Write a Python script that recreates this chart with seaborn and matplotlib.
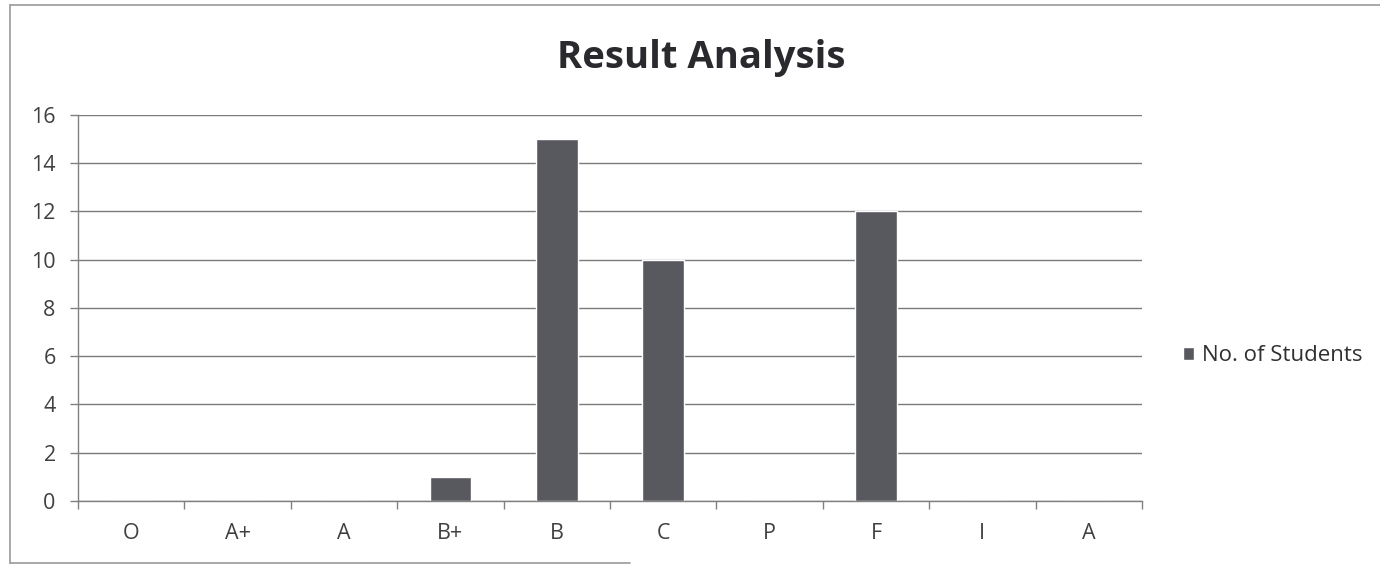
import matplotlib
matplotlib.use("Agg")
import matplotlib.pyplot as plt
import seaborn as sns
import pandas as pd
import numpy as np
from matplotlib.patches import Patch
from matplotlib.lines import Line2D
from matplotlib.ticker import FixedLocator

grades = ["O", "A+", "A", "B+", "B", "C", "P", "F", "I", "A"]
students = [0, 0, 0, 1, 15, 10, 0, 12, 0, 0]
series_name = "No. of Students"
title = "Result Analysis"

sns.set_theme(style="white")
plt.rcParams['font.family'] = ['Open Sans', 'DejaVu Sans']

df = pd.DataFrame({"idx": list(range(len(grades))), "val": students, "series": series_name})

fig = plt.figure(figsize=(13.8, 5.65), dpi=100)
ax = fig.add_axes([0.0565, 0.1133, 0.7710, 0.6832])

sns.barplot(data=df, x="idx", y="val", hue="series", palette=["#58585f"],
            width=0.39, ax=ax, legend=False, saturation=1)

ax.set_xlim(-0.5, len(grades) - 0.5)
ax.set_ylim(0, 16)
ax.set_yticks(range(0, 17, 2))
ax.set_yticklabels([str(v) for v in range(0, 17, 2)], fontsize=15.5)
ax.yaxis.grid(True, color="#7a7a7a", linewidth=1.0)
ax.set_axisbelow(True)
ax.set_xticks(range(len(grades)))
ax.set_xticklabels(grades, fontsize=15.5)
ax.xaxis.set_minor_locator(FixedLocator(np.arange(-0.5, len(grades), 1.0)))
ax.tick_params(axis="x", which="major", length=0, pad=16, labelcolor="#404040")
ax.tick_params(axis="x", which="minor", length=6, width=1, color="#808080", bottom=True)
ax.tick_params(axis="y", which="major", length=6, width=1, color="#808080", left=True,
               labelcolor="#404040", pad=10)
ax.set_xlabel("")
ax.set_ylabel("")
for s in ["top", "right"]:
    ax.spines[s].set_visible(False)
for s in ["left", "bottom"]:
    ax.spines[s].set_color("#808080")
    ax.spines[s].set_linewidth(1.0)

fig.text(0.508, 0.897, title, ha="center", va="center", fontsize=27.5, fontweight="bold",
         color="#2a2a2e")

handles = [Patch(facecolor="#58585f", label=series_name)]
fig.legend(handles=handles, loc="center left", bbox_to_anchor=(0.843, 0.37), frameon=False,
           fontsize=16, handlelength=0.5, handleheight=0.5, handletextpad=0.35, labelcolor="#303030")

# outer chart border (scanned frame)
W, H = 1380, 565
def fx(x): return x / W
def fy(y): return 1 - y / H
border = dict(color="#9a9a9a", linewidth=1.2, transform=fig.transFigure)
fig.add_artist(Line2D([fx(10), fx(10)], [fy(5), fy(563)], **border))
fig.add_artist(Line2D([fx(10), 1.0], [fy(5), fy(5)], **border))
fig.add_artist(Line2D([fx(10), fx(630)], [fy(563), fy(563)], **border))

fig.savefig("out.png", dpi=100)
